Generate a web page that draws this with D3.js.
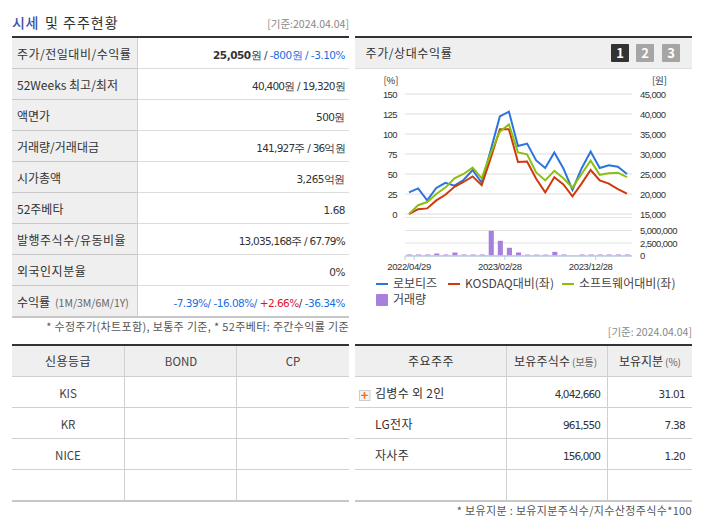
<!DOCTYPE html>
<html>
<head>
<meta charset="utf-8">
<script src="https://cdn.jsdelivr.net/npm/d3@7"></script>
<style>
  html, body { margin: 0; padding: 0; background: #fff; }
  svg { display: block; }
  text { font-family: "Noto Sans CJK KR", "Noto Sans", sans-serif; font-size: 12px; fill: #333; }
  .num { font-family: "DejaVu Sans", sans-serif; font-size: 10.5px; letter-spacing: -0.5px; }
  .tight { letter-spacing: -0.75px; }
  .axisnum { font-family: "Liberation Sans", sans-serif; font-size: 9.5px; letter-spacing: -0.6px; }
</style>
</head>
<body>
<div id="chart"></div>
<script>
// chart data (only every 10th date is printed on the chart, the rest are month ends)
const dates = ["2022/04/29","2022/05/31","2022/06/30","2022/07/29","2022/08/31","2022/09/30","2022/10/31","2022/11/30","2022/12/29","2023/01/31","2023/02/28","2023/03/31","2023/04/28","2023/05/31","2023/06/30","2023/07/31","2023/08/31","2023/09/27","2023/10/31","2023/11/30","2023/12/28","2024/01/31","2024/02/29","2024/03/29","2024/04/04"];
const robotis = [27,32,17,32.5,39,35.5,42.5,55,39,80,122,128,85,88,67,57.5,77,57,30,57,78,57.5,61,59,50];
const kosdaq = [0,6,7,17,24,34,40,47,36,70,106,106,65,65.5,44,27,46,37,22,38,55,42,38,31,25.5];
const software = [0,11,15,25,33,44.5,50,58,44.5,76,103,112,77,74.6,52,42,54,44.6,33,50,66.7,49,51,51.7,46];
const volume = [200000,200000,200000,400000,200000,600000,200000,200000,200000,4940000,2940000,1540000,600000,180000,180000,180000,730000,200000,30000,200000,200000,200000,200000,200000,200000];
const pctTicks = [0,25,50,75,100,125,150];
const wonTicks = [15000,20000,25000,30000,35000,40000,45000];
const volTicks = [0,2500000,5000000];

const priceRows = ["주가/전일대비/수익률","52Weeks 최고/최저","액면가","거래량/거래대금","시가총액","52주베타","발행주식수/유동비율","외국인지분율","수익률"];
const ratingRows = ["KIS","KR","NICE",""];
const holders = [
  ["김병수 외 2인","4,042,660","31.01"],
  ["LG전자","961,550","7.38"],
  ["자사주","156,000","1.20"],
  ["","",""]
];

const svg = d3.select("#chart").append("svg").attr("width", 702).attr("height", 525);

function line(x1, y1, x2, y2, color, w) {
  svg.append("line").attr("x1", x1).attr("y1", y1).attr("x2", x2).attr("y2", y2)
    .attr("stroke", color).attr("stroke-width", w || 1);
}
function label(x, y, str, anchor, size, color, cls) {
  return svg.append("text").attr("x", x).attr("y", y).attr("text-anchor", anchor || "start")
    .style("font-size", (size || 12) + "px")
    .style("fill", color || "#333").attr("class", cls || null).text(str);
}
function spans(xEnd, y, parts, cls) {
  const t = svg.append("text").attr("x", xEnd).attr("y", y).attr("text-anchor", "end").attr("class", cls || "num");
  parts.forEach(p => t.append("tspan").style("fill", p[1] || "#333").style("font-weight", p[2] || null).text(p[0]));
}

// title
label(12, 27.5, "시세", "start", 14, "#3a4fa8").style("font-weight", 500).style("letter-spacing", "0.5px");
label(45, 27.5, "및 주주현황", "start", 14, "#333").style("letter-spacing", "1px");
label(349, 28, "[기준:2024.04.04]", "end", 10.5, "#888");

// left top table
svg.append("rect").attr("x", 12).attr("y", 38).attr("width", 126).attr("height", 279).attr("fill", "#efefef");
line(12, 37, 349, 37, "#333", 2);
const rowY = d3.range(10).map(i => 37.5 + i * 31);
rowY.slice(1, 9).forEach(y => {
  line(12, y, 138, y, "#c8c8c8");
  line(138, y, 349, y, "#dcdcdc");
});
line(12, 317, 349, 317, "#c8c8c8", 2);
line(137.5, 38, 137.5, 316, "#d0d0d0");
priceRows.forEach((d, i) => {
  const t = label(17, rowY[i] + 21, d, "start", 12, "#333");
  if ([0, 6, 7].includes(i)) t.style("letter-spacing", "0.5px");
});
label(55, rowY[8] + 21, "(1M/3M/6M/1Y)", "start", 10.5, "#666");

spans(345, rowY[0] + 21, [["25,050", "#333", "bold"], ["원 / "], ["-800원 / -3.10%", "#1a6fe0"]]);
spans(345, rowY[1] + 21, [["40,400원 / 19,320원"]], "num tight");
spans(345, rowY[2] + 21, [["500원"]]);
spans(345, rowY[3] + 21, [["141,927주 / 36억원"]], "num tight");
spans(345, rowY[4] + 21, [["3,265억원"]]);
spans(345, rowY[5] + 21, [["1.68"]]);
spans(345, rowY[6] + 21, [["13,035,168주 / 67.79%"]], "num tight");
spans(345, rowY[7] + 21, [["0%"]]);
spans(345, rowY[8] + 21, [["-7.39%/ -16.08%/ ", "#1a6fe0"], ["+2.66%", "#e0102f"], ["/ "], ["-36.34%", "#1a6fe0"]]);
label(349, 331, "* 수정주가(차트포함), 보통주 기준, * 52주베타: 주간수익률 기준", "end", 11, "#555").style("letter-spacing", "0.35px");

// chart panel header
line(355, 37, 692, 37, "#333", 2);
svg.append("rect").attr("x", 355).attr("y", 38).attr("width", 337).attr("height", 30).attr("fill", "#efefef");
line(355, 68.5, 692, 68.5, "#ddd");
label(365.5, 58, "주가/상대수익률", "start", 12, "#333").style("letter-spacing", "0.6px");
[["1", 611, "#333"], ["2", 636, "#a5a5a5"], ["3", 662, "#a5a5a5"]].forEach(d => {
  svg.append("rect").attr("x", d[1]).attr("y", 44).attr("width", 18).attr("height", 18).attr("rx", 1).attr("fill", d[2]);
  label(d[1] + 9, 58, d[0], "middle", 13, "#fff").style("font-weight", "bold");
});

// scales
const x = d3.scaleBand().domain(dates).range([405, 632]);
const xp = d => x(d) + x.bandwidth() / 2 - 0.5;
const yPct = d3.scaleLinear().domain([0, 150]).range([214, 94]);
const yWon = d3.scaleLinear().domain([15000, 45000]).range([214, 94]);
const yVol = d3.scaleLinear().domain([0, 5000000]).range([255.5, 230.5]);

// grid
svg.append("g").selectAll("line").data(pctTicks).join("line")
  .attr("x1", 405).attr("x2", 632).attr("y1", d => yPct(d)).attr("y2", d => yPct(d))
  .attr("stroke", "#ddd");
line(405, 217.5, 632, 217.5, "#e4e4e4");
svg.append("g").selectAll("line").data(volTicks).join("line")
  .attr("x1", 405).attr("x2", 632).attr("y1", d => yVol(d)).attr("y2", d => yVol(d))
  .attr("stroke", "#e2e2e2");

// axes, drawn with d3.axis and stripped of their domain lines
const fmt = d3.format(",");
const axisStyle = g => {
  g.select(".domain").remove();
  g.selectAll(".tick line").remove();
  g.selectAll("text").attr("class", "axisnum").style("font-size", "9.5px").attr("fill", "#333");
};
svg.append("g").attr("transform", "translate(397,0)")
  .call(d3.axisLeft(yPct).tickValues(pctTicks).tickSize(0).tickPadding(0)).call(axisStyle);
svg.append("g").attr("transform", "translate(640,0)")
  .call(d3.axisRight(yWon).tickValues(wonTicks).tickFormat(fmt).tickSize(0).tickPadding(0)).call(axisStyle);
svg.append("g").attr("transform", "translate(640,0)")
  .call(d3.axisRight(yVol).tickValues(volTicks).tickFormat(fmt).tickSize(0).tickPadding(0)).call(axisStyle);
label(391, 84, "[%]", "middle", 9.5, "#333");
label(659.5, 84, "[원]", "middle", 9.5, "#333");

// bars
svg.append("g").selectAll("rect").data(volume).join("rect")
  .attr("x", (d, i) => x(dates[i]) + 2).attr("width", x.bandwidth() - 4)
  .attr("y", d => yVol(d)).attr("height", d => yVol(0) - yVol(d))
  .attr("fill", "#a77fdd");

// category axis
line(405, 256, 632, 256, "#b9cbe0", 1.5);
const tickIdx = [0, 10, 20];
line(405, 256, 405, 260, "#b9cbe0");
tickIdx.forEach(i => {
  const tx = x(dates[i]) + x.bandwidth();
  line(tx, 256, tx, 260, "#b9cbe0");
  label(xp(dates[i]), 270, dates[i], "middle", 9.5, "#333", "axisnum").style("letter-spacing", "-0.4px");
});

// lines
const lineGen = d3.line().x((d, i) => xp(dates[i])).y(d => yPct(d));
[[robotis, "#2a73e0"], [kosdaq, "#cf3a0c"], [software, "#8dbf0f"]].forEach(s => {
  svg.append("path").datum(s[0]).attr("d", lineGen).attr("fill", "none")
    .attr("stroke", s[1]).attr("stroke-width", 2);
});

// legend
[[376, "로보티즈", "#2a73e0"], [448, "KOSDAQ대비(좌)", "#cf3a0c"], [562, "소프트웨어대비(좌)", "#8dbf0f"]].forEach(d => {
  line(d[0], 284, d[0] + 12, 284, d[2], 2);
  label(d[0] + 17, 288, d[1], "start", 12, "#444");
});
svg.append("rect").attr("x", 376).attr("y", 294).attr("width", 12).attr("height", 12).attr("rx", 1).attr("fill", "#a77fdd");
label(393, 304, "거래량", "start", 12, "#444");

// bottom left table
label(692, 336, "[기준: 2024.04.04]", "end", 10.5, "#888");
line(12, 345, 349, 345, "#333", 2);
svg.append("rect").attr("x", 12).attr("y", 346).attr("width", 337).attr("height", 30).attr("fill", "#efefef");
[376.5, 407.5, 438.5, 469.5].forEach(y => line(12, y, 349, y, "#d0d0d0"));
line(12, 501, 349, 501, "#c8c8c8", 2);
[124.5, 236.5].forEach(v => line(v, 346, v, 500, "#d0d0d0"));
label(68, 366, "신용등급", "middle", 12).style("letter-spacing", "0.5px");
label(181, 366, "BOND", "middle", 11.5, "#444");
label(293, 366, "CP", "middle", 11.5, "#444");
ratingRows.forEach((d, i) => label(68, 398 + i * 31, d, "middle", 11.5, "#444"));

// bottom right table
line(355, 345, 692, 345, "#333", 2);
svg.append("rect").attr("x", 355).attr("y", 346).attr("width", 337).attr("height", 30).attr("fill", "#efefef");
[376.5, 407.5, 438.5, 469.5].forEach(y => line(355, y, 692, y, "#d0d0d0"));
line(355, 501, 692, 501, "#c8c8c8", 2);
[506.5, 607.5].forEach(v => line(v, 346, v, 500, "#d0d0d0"));
label(431, 366, "주요주주", "middle", 12).style("letter-spacing", "0.5px");
label(514, 366, "보유주식수", "start", 12).style("letter-spacing", "0.2px");
label(572, 366, "(보통)", "start", 10, "#666");
label(619, 366, "보유지분", "start", 12);
label(665, 366, "(%)", "start", 10, "#666");
holders.forEach((d, i) => {
  const y = 398 + i * 31;
  label(375, y, d[0], "start", 12, "#333").style("letter-spacing", "0.3px");
  label(600, y, d[1], "end", 10.5, "#333", "num").style("letter-spacing", "-0.9px");
  label(685, y, d[2], "end", 10.5, "#333", "num").style("letter-spacing", "-0.7px");
});
svg.append("rect").attr("x", 359.5).attr("y", 390.5).attr("width", 10.5).attr("height", 10).attr("fill", "#f4f4f4").attr("stroke", "#ccc");
label(364.7, 400, "+", "middle", 13, "#f07010").style("font-weight", "bold");
label(692, 515, "* 보유지분 : 보유지분주식수/지수산정주식수*100", "end", 11, "#555").style("letter-spacing", "0.35px");
</script>
</body>
</html>
